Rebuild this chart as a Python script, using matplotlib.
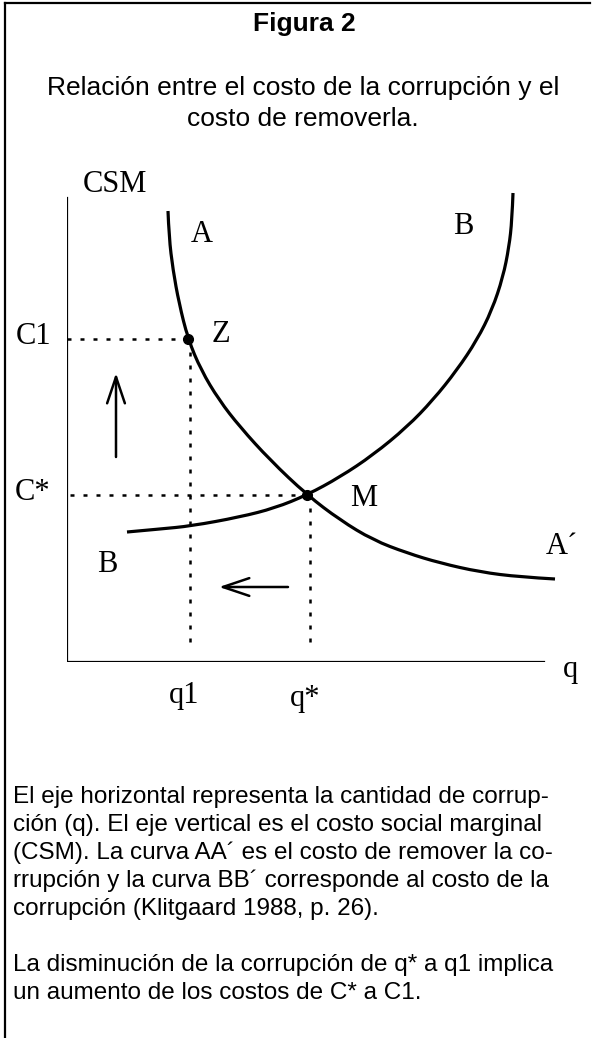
import matplotlib
matplotlib.use("Agg")
import matplotlib.pyplot as plt
from matplotlib.path import Path
from matplotlib.patches import PathPatch

#__Datos__ (origen en el corte de los ejes)
# curva AA' : costo de remover la corrupcion
q_AA = [101, 102, 106, 112, 121, 134, 152, 173, 203, 240, 273, 306, 340, 373, 413, 453, 488]
c_AA = [451, 425, 392, 359, 323, 292, 262, 235, 202, 167, 142, 122, 109, 99, 90, 85, 83]
# curva BB' : costo de la corrupcion
q_BB = [60, 93, 124, 173, 208, 240, 273, 306, 340, 366, 390, 410, 425, 436, 442, 445, 446]
c_BB = [130, 133, 136, 145, 154, 167, 185, 207, 235, 262, 292, 322, 352, 385, 415, 442, 469]
# puntos Z y M
q1, C1 = 121, 323
qs, Cs = 240, 167
# largo de los ejes
eje_q = 477
eje_c = 464

titulo = "Figura 2"
subtitulo = ["Relación entre el costo de la corrupción y el",
             "costo de removerla."]
texto = ["El eje horizontal representa la cantidad de corrup-",
         "ción (q). El eje vertical es el costo social marginal",
         "(CSM). La curva AA´ es el costo de remover la co-",
         "rrupción y la curva BB´ corresponde al costo de la",
         "corrupción (Klitgaard 1988, p. 26).",
         "",
         "La disminución de la corrupción de q* a q1 implica",
         "un aumento de los costos de C* a C1."]


def curva(xs, ys):
    # curva suave (bezier cuadratica) guiada por los puntos leidos
    pts = list(zip(xs, ys))
    verts = [pts[0]]
    codes = [Path.MOVETO]
    n = len(pts)
    for i in range(1, n - 1):
        if i < n - 2:
            fin = ((pts[i][0] + pts[i + 1][0]) / 2, (pts[i][1] + pts[i + 1][1]) / 2)
        else:
            fin = pts[n - 1]
        verts += [pts[i], fin]
        codes += [Path.CURVE3, Path.CURVE3]
    return PathPatch(Path(verts, codes), fill=False, lw=2.3,
                     edgecolor="black", capstyle="butt")


#__Figura__
W, H = 592, 1038
fig = plt.figure(figsize=(W / 100, H / 100), dpi=100)
fig.patch.set_facecolor("white")

# fondo en pixeles para textos y marco
bg = fig.add_axes([0, 0, 1, 1])
bg.set_xlim(0, W)
bg.set_ylim(H, 0)
bg.axis("off")
bg.plot([5, 5], [3, H], color="black", lw=1.6)
bg.plot([5, 590], [3, 3], color="black", lw=1.6)

sans = "Liberation Sans"
serif = "Liberation Serif"
bg.text(304, 24, titulo, family=sans, weight="bold", fontsize=19,
        ha="center", va="center")
for i, s in enumerate(subtitulo):
    bg.text(303, 88 + i * 31, s, family=sans, fontsize=19,
            ha="center", va="center")
for i, s in enumerate(texto):
    bg.text(13, 797 + i * 28, s, family=sans, fontsize=17.5,
            ha="left", va="center")

#__Grafico__
x0, y0 = 67, 662
ax = fig.add_axes([x0 / W, (H - y0) / H, (W - x0) / W, y0 / H])
ax.set_xlim(0, W - x0)
ax.set_ylim(0, y0)
ax.axis("off")

# ejes
ax.plot([0, 0], [0, eje_c], color="black", lw=1.6)
ax.plot([0, eje_q], [0, 0], color="black", lw=1.6)

# curvas
ax.add_patch(curva(q_AA, c_AA))
ax.add_patch(curva(q_BB, c_BB))

# lineas punteadas
pts = dict(color="black", lw=1.8, linestyle=(0, (1.6, 3.6)))
ax.plot([0, q1], [C1, C1], **pts)
ax.plot([q1 + 2, q1 + 2], [C1, 14], **pts)
ax.plot([3, qs], [Cs, Cs], **pts)
ax.plot([qs + 3, qs + 3], [Cs, 14], **pts)

# puntos
ax.plot([q1, qs], [C1, Cs], "o", color="black", ms=7)

# flechas
flecha = dict(arrowstyle="->,head_length=0.95,head_width=0.32",
              lw=1.8, color="black", shrinkA=0, shrinkB=0, mutation_scale=20)
ax.annotate("", xy=(49, 289), xytext=(49, 205), arrowprops=flecha)
ax.annotate("", xy=(152, 75), xytext=(221, 75), arrowprops=flecha)

# etiquetas
lab = dict(family=serif, fontsize=22, ha="center", va="center")
ax.text(48, 477, "CSM", **lab)
ax.text(-33, 325, "C1", **lab)
ax.text(-34, 170, "C*", **lab)
ax.text(117, -41, "q1", family=serif, fontsize=22, ha="center", va="baseline")
ax.text(238, -44, "q*", family=serif, fontsize=22, ha="center", va="baseline")
ax.text(504, -15, "q", family=serif, fontsize=22, ha="center", va="baseline")
ax.text(135, 427, "A", **lab)
ax.text(396, 436, "B", **lab)
ax.text(40, 98, "B", **lab)
ax.text(495, 115, "A´", **lab)
ax.text(154, 327, "Z", **lab)
ax.text(297, 163, "M", **lab)

fig.savefig("out.png", dpi=100, facecolor="white")
